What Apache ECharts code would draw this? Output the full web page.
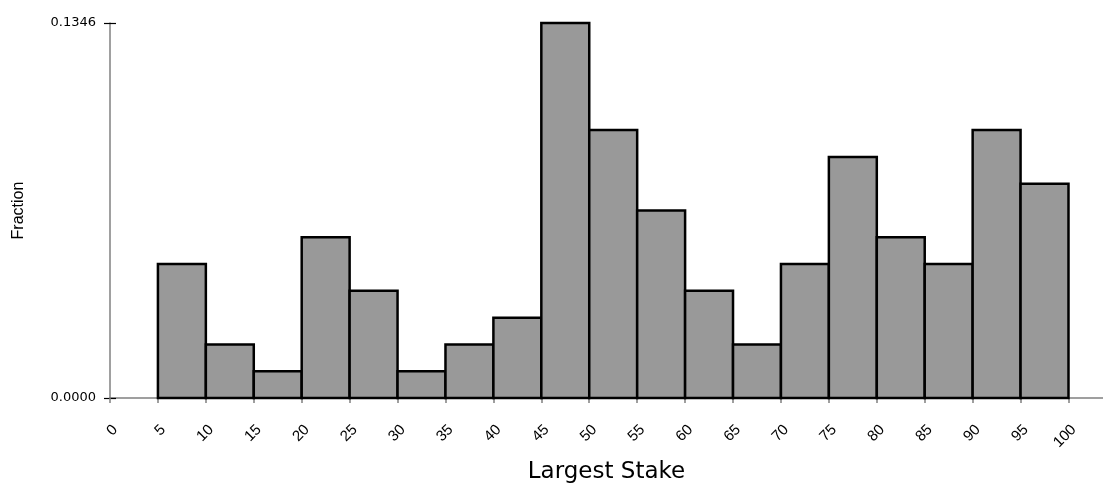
<!DOCTYPE html>
<html>
<head>
<meta charset="utf-8">
<script src="https://cdn.jsdelivr.net/npm/echarts@6/dist/echarts.min.js"></script>
<style>
html,body{margin:0;padding:0;background:#fff;}
#chart{width:1103px;height:483px;}
</style>
</head>
<body>
<div id="chart"></div>
<script>
const binStarts = [5,10,15,20,25,30,35,40,45,50,55,60,65,70,75,80,85,90,95];
const binEnds   = [10,15,20,25,30,35,40,45,50,55,60,65,70,75,80,85,90,95,100];
const fractions = [0.0481,0.0192,0.0096,0.0577,0.0385,0.0096,0.0192,0.0288,0.1346,0.0962,0.0673,0.0385,0.0192,0.0481,0.0865,0.0577,0.0481,0.0962,0.0769];
const xTicks = [0,5,10,15,20,25,30,35,40,45,50,55,60,65,70,75,80,85,90,95,100];
const yTicks = [0, 0.1346];
const xName = 'Largest Stake';
const yName = 'Fraction';

const data = binStarts.map((s,i)=>[s, binEnds[i], fractions[i]]);
const chart = echarts.init(document.getElementById('chart'));
const font = 'Liberation Sans, Arial, sans-serif';
chart.setOption({
  animation:false,
  grid:{left:110, right:0, top:23, bottom:85, containLabel:false, outerBoundsMode:'none'},
  xAxis:{
    type:'value', min:0, max:103.6,
    splitLine:{show:false},
    axisLine:{lineStyle:{color:'#808080', width:1.5}},
    axisTick:{customValues:xTicks, length:5, lineStyle:{color:'#808080', width:1.5}},
    axisLabel:{customValues:xTicks, rotate:45, margin:24, verticalAlign:'top', fontFamily:font, fontSize:15, color:'#000'},
    name:xName, nameLocation:'middle', nameGap:63,
    nameTextStyle:{fontFamily:'DejaVu Sans, sans-serif', fontSize:23, color:'#000'}
  },
  yAxis:[{
    type:'value', min:0, max:0.1346,
    splitLine:{show:false},
    axisLine:{show:true, lineStyle:{color:'#808080', width:1.5}},
    axisTick:{customValues:yTicks, length:6, lineStyle:{color:'#000', width:1.2}},
    axisLabel:{customValues:yTicks, margin:14, fontFamily:'DejaVu Sans, sans-serif', fontSize:13, color:'#000',
      formatter:v=>v.toFixed(4)},
    name:yName, nameLocation:'middle', nameGap:83,
    nameTextStyle:{fontFamily:font, fontSize:16, color:'#000'}
  },{
    type:'value', min:0, max:0.1346, position:'left',
    splitLine:{show:false},
    axisLine:{show:false},
    axisTick:{customValues:yTicks, inside:true, length:6, lineStyle:{color:'#000', width:1.2}},
    axisLabel:{show:false}
  }],
  series:[{
    type:'custom',
    data:data,
    encode:{x:[0,1], y:2},
    renderItem:function(params, api){
      const tl = api.coord([api.value(0), api.value(2)]);
      const br = api.coord([api.value(1), 0]);
      return {
        type:'rect',
        shape:{x:tl[0], y:tl[1], width:br[0]-tl[0], height:br[1]-tl[1]},
        style:{fill:'#999999', stroke:'#000', lineWidth:2.5}
      };
    }
  }]
});
</script>
</body>
</html>
